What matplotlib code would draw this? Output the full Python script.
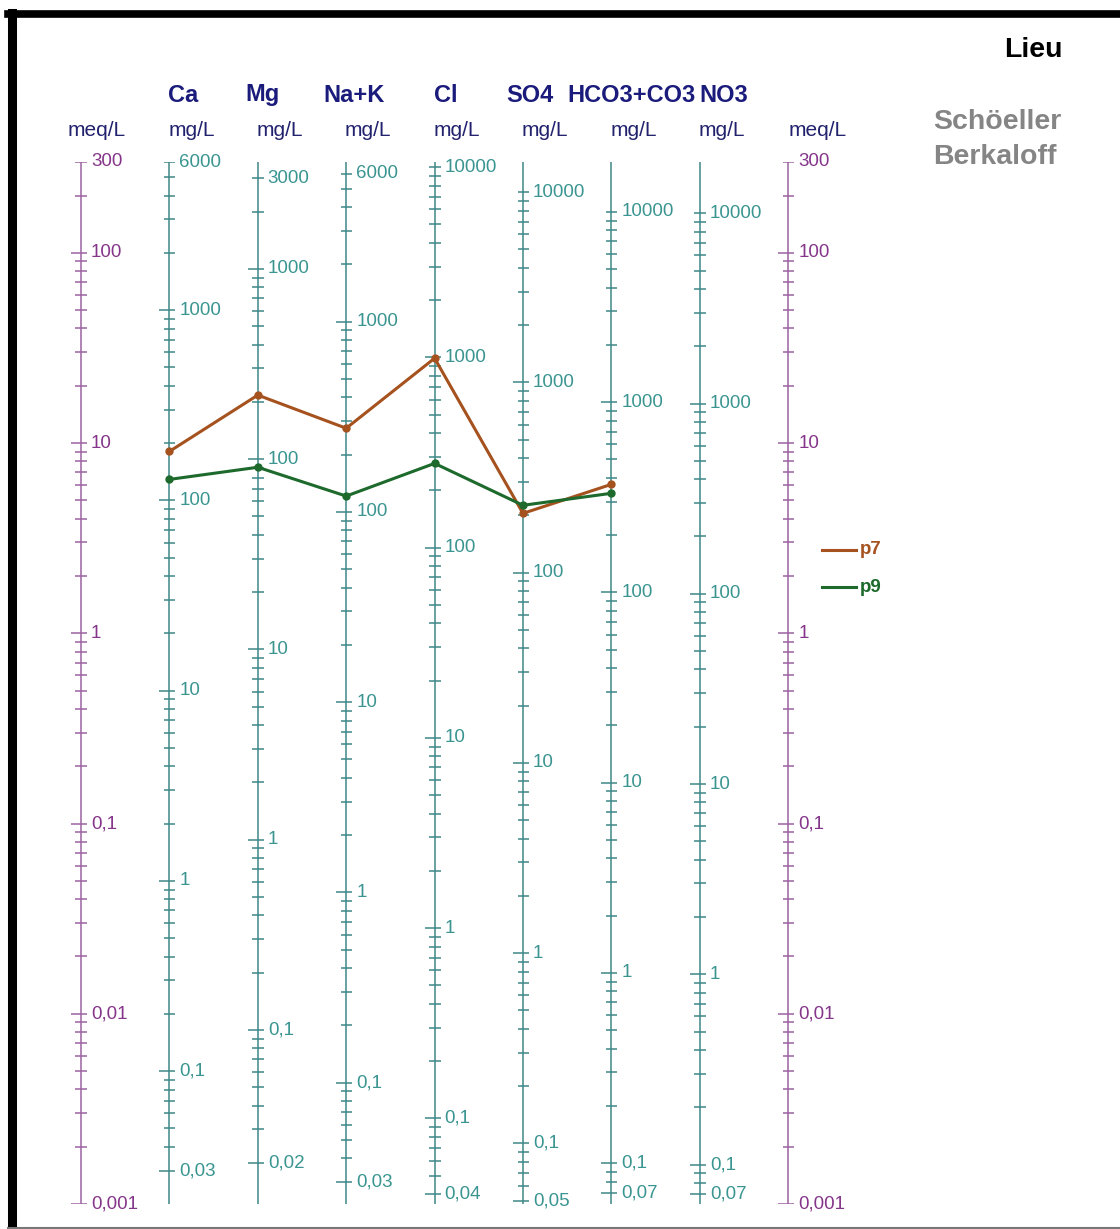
import numpy as np
import matplotlib.pyplot as plt
from matplotlib.lines import Line2D
from matplotlib.transforms import blended_transform_factory

plt.rcParams['font.family'] = ['Liberation Sans', 'DejaVu Sans']

# ions and equivalent weights (mg per meq)
ions = ['Ca', 'Mg', 'Na+K', 'Cl', 'SO4', 'HCO3+CO3', 'NO3']
eq_weight = [20.04, 12.15, 23.0, 35.45, 48.03, 61.02, 62.0]

# analyses in mg/L (NO3 not measured)
p7_mg = [181, 217, 275, 989, 205, 370]
p9_mg = [129, 90.6, 121, 277, 226, 332]
samples = ['p7', 'p9']
sample_colors = ['#a5521f', '#1d6a2c']

meq_min, meq_max = 0.001, 300

# colours
purple_line = '#9d62a3'
purple_txt = '#85358a'
teal_line = '#3f8888'
teal_txt = '#3a9591'
navy = '#1b1b7c'

W, H = 1120, 1229
fig = plt.figure(figsize=(W / 100, H / 100), dpi=100)
ax = fig.add_axes([0, 25 / H, 1, 1042 / H])
step = 88.4
x0 = 81
px = 1 / step
ax.set_xlim(-x0 / step, (W - x0) / step)
ax.set_yscale('log')
ax.set_ylim(meq_min, meq_max)
ax.axis('off')

fy = lambda p: 1 - p / H
tr = blended_transform_factory(ax.transData, fig.transFigure)


def ticks_between(lo, hi):
    out = []
    for k in range(-4, 6):
        for m in range(1, 10):
            v = round(m * 10.0 ** k, 6)
            if lo * 0.9999 <= v <= hi * 1.0001:
                out.append(v)
    return out


def fmt(v):
    return f'{v:g}'.replace('.', ',')


def draw_scale(x, values, factor, lcol, tcol):
    # values in axis units, factor converts them to meq/L
    ax.vlines(x, meq_min, meq_max, color=lcol, lw=1.1)
    for i, v in enumerate(values):
        is_pow = abs(np.log10(v) - round(np.log10(v))) < 1e-9
        labelled = is_pow or i == 0 or i == len(values) - 1
        left = 10 if labelled and i != len(values) - 1 else 5.5
        ax.hlines(v / factor, x - left * px, x + 6 * px, color=lcol, lw=1.1)
        if labelled:
            ax.text(x + 10 * px, v / factor, fmt(v), color=tcol, fontsize=13.5,
                    ha='left', va='center')


# meq/L scales on both sides
meq_ticks = ticks_between(meq_min, meq_max)
for x in (0, 8):
    draw_scale(x, meq_ticks, 1.0, purple_line, purple_txt)

# mg/L scales for each ion
for j, (ion, eq) in enumerate(zip(ions, eq_weight)):
    x = j + 1
    draw_scale(x, ticks_between(meq_min * eq, meq_max * eq), eq, teal_line, teal_txt)

# headers
head_dx = [14, 5, 8, 11, 7, 20, 24]
for j, ion in enumerate(ions):
    ax.text(j + 1 + head_dx[j] * px, fy(95), ion, transform=tr, ha='center', va='center',
            fontsize=17, fontweight='bold', color=navy)
    ax.text(j + 1 + 22 * px, fy(130), 'mg/L', transform=tr, ha='center', va='center',
            fontsize=15, color='#22226e')
ax.text(0 + 16 * px, fy(130), 'meq/L', transform=tr, ha='center', va='center',
        fontsize=15, color='#22226e')
ax.text(8 + 29 * px, fy(130), 'meq/L', transform=tr, ha='center', va='center',
        fontsize=15, color='#22226e')

fig.text(1063 / W, fy(50), 'Lieu', ha='right', va='center', fontsize=20.5,
         fontweight='bold', color='black')
fig.text(933 / W, fy(122), 'Schöeller', ha='left', va='center', fontsize=20.5,
         fontweight='bold', color='#858585')
fig.text(933 / W, fy(157), 'Berkaloff', ha='left', va='center', fontsize=20.5,
         fontweight='bold', color='#858585')

# sample lines
for name, vals, col in zip(samples, [p7_mg, p9_mg], sample_colors):
    meq = [v / eq for v, eq in zip(vals, eq_weight)]
    xs = np.arange(1, len(meq) + 1)
    ax.plot(xs, meq, color=col, lw=2.2, marker='o', ms=5, zorder=5)

# legend
for k, (name, col) in enumerate(zip(samples, sample_colors)):
    yy = fy(550 + 37 * k)
    fig.add_artist(Line2D([822 / W, 856 / W], [yy, yy], color=col, lw=2.2))
    fig.text(860 / W, yy, name, color=col, fontsize=13.5, fontweight='bold',
             ha='left', va='center')

# frame
fig.add_artist(Line2D([12 / W, 12 / W], [fy(13), fy(1229)], color='black', lw=6.5))
fig.add_artist(Line2D([8 / W, 1 + 0.01], [fy(13.5), fy(13.5)], color='black', lw=5.5))
fig.add_artist(Line2D([8 / W, 1], [fy(1227.5), fy(1227.5)], color='#777777', lw=1.5))

fig.savefig('out.png', dpi=100)
